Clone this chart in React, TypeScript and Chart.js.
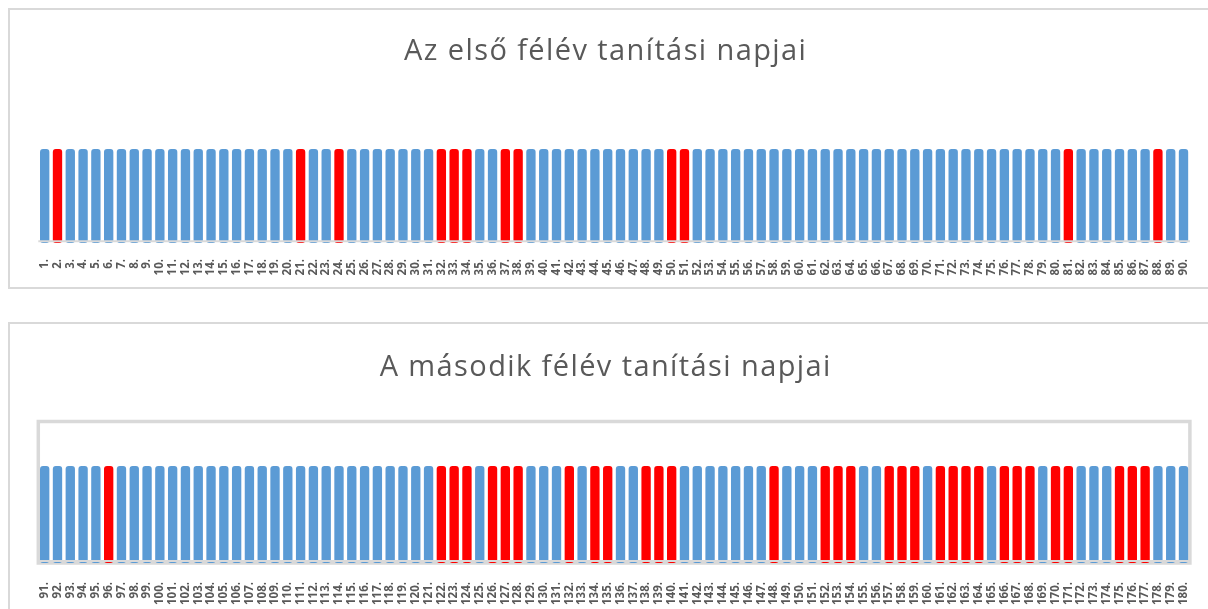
import React, { useEffect, useRef } from "react";
import { Chart, registerables } from "chart.js";

Chart.register(...registerables);

const TITLE_1 = "Az első félév tanítási napjai";
const TITLE_2 = "A második félév tanítási napjai";

const DAYS_1 = [
  1, 2, 3, 4, 5, 6, 7, 8, 9, 10,
  11, 12, 13, 14, 15, 16, 17, 18, 19, 20,
  21, 22, 23, 24, 25, 26, 27, 28, 29, 30,
  31, 32, 33, 34, 35, 36, 37, 38, 39, 40,
  41, 42, 43, 44, 45, 46, 47, 48, 49, 50,
  51, 52, 53, 54, 55, 56, 57, 58, 59, 60,
  61, 62, 63, 64, 65, 66, 67, 68, 69, 70,
  71, 72, 73, 74, 75, 76, 77, 78, 79, 80,
  81, 82, 83, 84, 85, 86, 87, 88, 89, 90,
];
const VALUES_1 = [
  1, 1, 1, 1, 1, 1, 1, 1, 1, 1,
  1, 1, 1, 1, 1, 1, 1, 1, 1, 1,
  1, 1, 1, 1, 1, 1, 1, 1, 1, 1,
  1, 1, 1, 1, 1, 1, 1, 1, 1, 1,
  1, 1, 1, 1, 1, 1, 1, 1, 1, 1,
  1, 1, 1, 1, 1, 1, 1, 1, 1, 1,
  1, 1, 1, 1, 1, 1, 1, 1, 1, 1,
  1, 1, 1, 1, 1, 1, 1, 1, 1, 1,
  1, 1, 1, 1, 1, 1, 1, 1, 1, 1,
];
const RED_DAYS_1 = [2, 21, 24, 32, 33, 34, 37, 38, 50, 51, 81, 88];

const DAYS_2 = [
  91, 92, 93, 94, 95, 96, 97, 98, 99, 100,
  101, 102, 103, 104, 105, 106, 107, 108, 109, 110,
  111, 112, 113, 114, 115, 116, 117, 118, 119, 120,
  121, 122, 123, 124, 125, 126, 127, 128, 129, 130,
  131, 132, 133, 134, 135, 136, 137, 138, 139, 140,
  141, 142, 143, 144, 145, 146, 147, 148, 149, 150,
  151, 152, 153, 154, 155, 156, 157, 158, 159, 160,
  161, 162, 163, 164, 165, 166, 167, 168, 169, 170,
  171, 172, 173, 174, 175, 176, 177, 178, 179, 180,
];
const VALUES_2 = [
  1, 1, 1, 1, 1, 1, 1, 1, 1, 1,
  1, 1, 1, 1, 1, 1, 1, 1, 1, 1,
  1, 1, 1, 1, 1, 1, 1, 1, 1, 1,
  1, 1, 1, 1, 1, 1, 1, 1, 1, 1,
  1, 1, 1, 1, 1, 1, 1, 1, 1, 1,
  1, 1, 1, 1, 1, 1, 1, 1, 1, 1,
  1, 1, 1, 1, 1, 1, 1, 1, 1, 1,
  1, 1, 1, 1, 1, 1, 1, 1, 1, 1,
  1, 1, 1, 1, 1, 1, 1, 1, 1, 1,
];
const RED_DAYS_2 = [
  96, 122, 123, 124, 126, 127, 128, 132, 134, 135, 138, 139, 140, 148,
  152, 153, 154, 157, 158, 159, 161, 162, 163, 164, 166, 167, 168, 170,
  171, 175, 176, 177,
];

const BLUE = "#5b9bd5";
const RED = "#ff0000";
const GRAY = "#d9d9d9";
const TEXT = "#595959";

type Spec = {
  days: number[];
  values: number[];
  red: number[];
  title: string;
  titleBaseline: number;
  yMin: number;
  yMax: number;
  areaTop: number;
  tickPad: number;
  xHeight: number;
  frame: boolean;
};

const axisLinePlugin = {
  id: "axisLine",
  afterDatasetsDraw(chart: any) {
    const { ctx, chartArea } = chart;
    const y0 = chart.scales.y.getPixelForValue(0);
    ctx.save();
    ctx.strokeStyle = GRAY;
    ctx.lineWidth = 2;
    ctx.beginPath();
    ctx.moveTo(chartArea.left, y0);
    ctx.lineTo(chartArea.right, y0);
    ctx.stroke();
    ctx.restore();
  },
};

const framePlugin = {
  id: "plotFrame",
  beforeDatasetsDraw(chart: any, _args: any, opts: any) {
    if (!opts || !opts.enabled) return;
    const { ctx, chartArea } = chart;
    ctx.save();
    ctx.strokeStyle = GRAY;
    ctx.lineWidth = 3.5;
    ctx.strokeRect(
      chartArea.left,
      chartArea.top,
      chartArea.right - chartArea.left,
      chartArea.bottom - chartArea.top
    );
    ctx.restore();
  },
};

const spacedTitlePlugin = {
  id: "spacedTitle",
  afterDraw(chart: any, _args: any, opts: any) {
    if (!opts || !opts.text) return;
    const { ctx, width } = chart;
    ctx.save();
    ctx.font = `normal ${opts.size}px 'Open Sans', sans-serif`;
    ctx.fillStyle = opts.color;
    (ctx as any).letterSpacing = `${opts.spacing}px`;
    ctx.textAlign = "left";
    ctx.textBaseline = "alphabetic";
    const w = ctx.measureText(opts.text).width;
    ctx.fillText(opts.text, width / 2 - w / 2 + opts.spacing / 2, opts.baseline);
    ctx.restore();
  },
};

function makeConfig(s: Spec): any {
  const labels = s.days.map((d) => d + ".");
  const colors = s.days.map((d) => (s.red.includes(d) ? RED : BLUE));
  return {
    type: "bar",
    data: {
      labels,
      datasets: [
        {
          data: s.values,
          backgroundColor: colors,
          borderWidth: 0,
          borderRadius: 3,
          borderSkipped: false,
          base: s.yMin,
          barPercentage: 0.73,
          categoryPercentage: 1,
        },
      ],
    },
    options: {
      responsive: false,
      animation: false,
      devicePixelRatio: 1,
      layout: { padding: { left: 28.3, right: 10.1, top: s.areaTop, bottom: 0 } },
      plugins: {
        legend: { display: false },
        tooltip: { enabled: false },
        title: { display: false },
        plotFrame: { enabled: s.frame },
        spacedTitle: {
          text: s.title,
          size: 29,
          spacing: 1.4,
          color: TEXT,
          baseline: s.titleBaseline,
        },
      },
      scales: {
        x: {
          grid: { display: false },
          border: { display: false },
          ticks: {
            autoSkip: false,
            maxRotation: 90,
            minRotation: 90,
            padding: s.tickPad,
            color: TEXT,
            font: { family: "'Open Sans', sans-serif", size: 11.5, weight: "bold" },
          },
          afterFit: (scale: any) => {
            scale.height = s.xHeight;
            scale.paddingLeft = 0;
            scale.paddingRight = 0;
          },
        },
        y: {
          display: false,
          min: s.yMin,
          max: s.yMax,
        },
      },
    },
    plugins: [axisLinePlugin, framePlugin, spacedTitlePlugin],
  };
}

function BarChart({ spec, width, height }: { spec: Spec; width: number; height: number }) {
  const ref = useRef<HTMLCanvasElement | null>(null);
  useEffect(() => {
    if (!ref.current) return;
    const chart = new Chart(ref.current, makeConfig(spec));
    return () => chart.destroy();
  }, []);
  return <canvas ref={ref} width={width} height={height} style={{ display: "block", width, height }} />;
}

const SPEC_1: Spec = {
  days: DAYS_1,
  values: VALUES_1,
  red: RED_DAYS_1,
  title: TITLE_1,
  titleBaseline: 50,
  yMin: -0.02,
  yMax: 1,
  areaTop: 139,
  tickPad: 8,
  xHeight: 44,
  frame: false,
};

const SPEC_2: Spec = {
  days: DAYS_2,
  values: VALUES_2,
  red: RED_DAYS_2,
  title: TITLE_2,
  titleBaseline: 52,
  yMin: -0.021,
  yMax: 1.468,
  areaTop: 97.5,
  tickPad: 11,
  xHeight: 46,
  frame: true,
};

export default function App() {
  return (
    <div
      style={{
        position: "fixed",
        left: 0,
        top: 0,
        width: 1208,
        height: 609,
        overflow: "hidden",
        background: "#ffffff",
      }}
    >
      <div
        style={{
          position: "absolute",
          left: 8,
          top: 8,
          width: 1220,
          height: 281,
          boxSizing: "border-box",
          border: `2px solid ${GRAY}`,
        }}
      />
      <div
        style={{
          position: "absolute",
          left: 8,
          top: 322,
          width: 1220,
          height: 320,
          boxSizing: "border-box",
          border: `2px solid ${GRAY}`,
        }}
      />
      <div style={{ position: "absolute", left: 10, top: 10 }}>
        <BarChart spec={SPEC_1} width={1190} height={277} />
      </div>
      <div style={{ position: "absolute", left: 10, top: 324 }}>
        <BarChart spec={SPEC_2} width={1190} height={285} />
      </div>
    </div>
  );
}
